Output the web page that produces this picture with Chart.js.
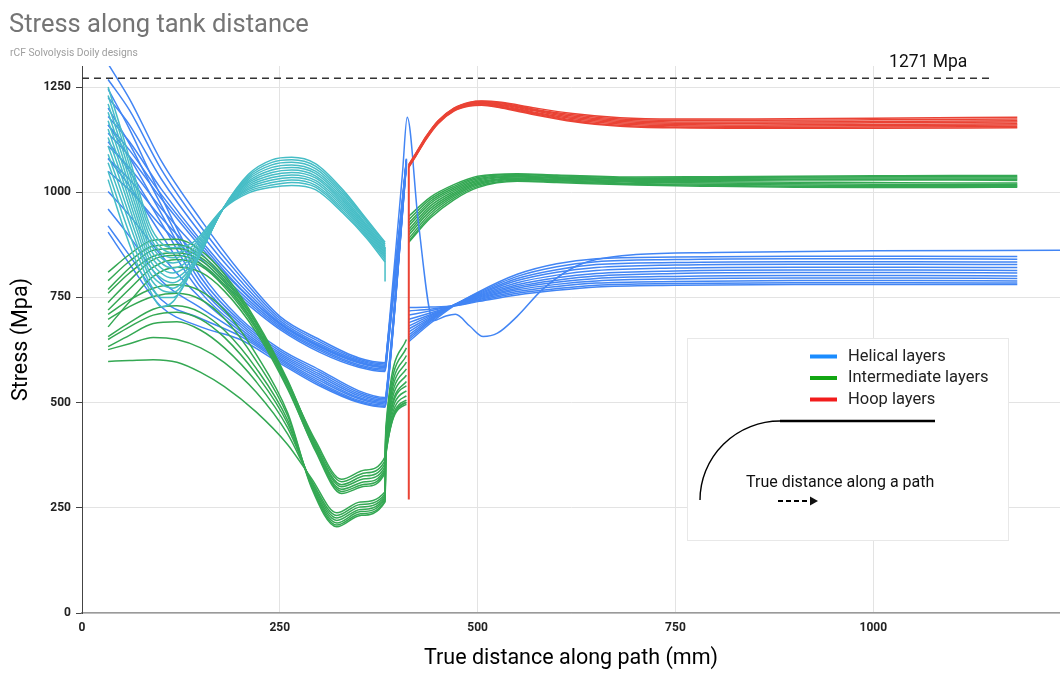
<!DOCTYPE html>
<html>
<head>
<meta charset="UTF-8">
<title>Stress along tank distance</title>
<script src="https://cdn.jsdelivr.net/npm/chart.js@4.4.1/dist/chart.umd.min.js"></script>
<style>
html,body{margin:0;padding:0;background:#fff;}
#wrap{width:1060px;height:673px;}
</style>
</head>
<body>
<div id="wrap"><canvas id="chart" width="1060" height="673"></canvas></div>
<script>
// ===== DATA =====
const xTicks = [0, 250, 500, 750, 1000];
const yTicks = [0, 250, 500, 750, 1000, 1250];
const limitValue = 1271;
const limitX = [0, 1148];

// helical layers, left part (two bundles)
const helX = [33, 60, 100, 150, 200, 250, 300, 350, 383, 386, 410];
const helUpper = [
  [1305, 1222, 1075, 935, 810, 705, 650, 606, 595, 640, 1078],
  [1268, 1195, 1055, 918, 800, 700, 645, 603, 592, 637, 1076],
  [1225, 1160, 1032, 902, 790, 695, 640, 600, 589, 634, 1074],
  [1180, 1120, 1008, 886, 780, 690, 636, 597, 586, 631, 1072],
  [1140, 1085, 985, 870, 770, 686, 632, 594, 583, 628, 1070],
  [1110, 1058, 962, 856, 762, 682, 628, 590, 580, 625, 1068],
  [1080, 1030, 940, 842, 755, 678, 624, 587, 577, 622, 1066],
  [1050, 1005, 920, 830, 748, 674, 620, 584, 574, 619, 1064]
];
const helLower = [
  [1245, 1150, 990, 810, 700, 628, 578, 528, 512, 550, 1080],
  [1200, 1115, 970, 798, 694, 623, 573, 524, 509, 547, 1078],
  [1160, 1082, 950, 786, 688, 618, 568, 520, 506, 544, 1076],
  [1120, 1050, 928, 774, 682, 614, 563, 516, 503, 541, 1074],
  [1080, 1015, 900, 762, 676, 610, 558, 512, 500, 538, 1072],
  [1002, 945, 850, 748, 670, 606, 553, 509, 497, 535, 1070],
  [960, 895, 790, 725, 664, 602, 548, 505, 494, 532, 1068],
  [920, 850, 745, 700, 658, 598, 544, 502, 491, 529, 1066],
  [905, 830, 728, 680, 650, 594, 540, 500, 489, 527, 1064]
];
// helical layers, right part
const helRightX = [413, 440, 470, 500, 550, 600, 650, 750, 900, 1050, 1182];
const helRight = [
  [645, 688, 730, 762, 805, 830, 842, 846, 848, 848, 847],
  [650, 692, 731, 760, 800, 823, 835, 840, 842, 842, 841],
  [655, 695, 732, 758, 795, 816, 828, 833, 835, 835, 834],
  [661, 698, 732, 756, 790, 810, 821, 827, 829, 829, 828],
  [668, 700, 732, 754, 785, 803, 814, 820, 822, 822, 821],
  [675, 703, 732, 752, 780, 797, 807, 813, 815, 815, 814],
  [682, 706, 731, 750, 776, 791, 801, 807, 809, 809, 808],
  [690, 709, 731, 748, 772, 786, 795, 800, 802, 802, 801],
  [698, 713, 730, 746, 768, 781, 789, 794, 796, 796, 795],
  [708, 718, 730, 744, 764, 776, 784, 788, 790, 790, 789],
  [718, 722, 730, 742, 760, 771, 779, 783, 785, 785, 784],
  [726, 727, 730, 740, 756, 767, 775, 779, 781, 781, 781]
];
// the one helical line with the spike and the dip
const helSpikeX = [33, 60, 100, 150, 200, 250, 300, 350, 383, 386, 405, 411, 425, 444, 460, 472, 490, 507, 525, 550, 582, 620, 650, 700, 800, 1000, 1236];
const helSpikeY = [1160, 1100, 995, 878, 772, 688, 634, 596, 585, 640, 1045, 1178, 930, 695, 706, 710, 682, 657, 665, 705, 769, 820, 840, 852, 857, 861, 862];

// cyan bundle (helical, first zone)
const cyanX = [33, 50, 67, 85, 100, 115, 140, 178, 210, 240, 265, 295, 330, 360, 383];
const cyanLines = [
  [1250, 1145, 1035, 925, 880, 868, 880, 960, 998, 1012, 1016, 1006, 950, 890, 834],
  [1230, 1128, 1020, 912, 868, 856, 872, 960, 1002, 1017, 1023, 1012, 955, 894, 840],
  [1210, 1110, 1004, 898, 856, 844, 864, 960, 1006, 1023, 1029, 1017, 960, 898, 845],
  [1190, 1092, 988, 884, 844, 832, 856, 960, 1010, 1029, 1035, 1023, 965, 902, 849],
  [1170, 1074, 972, 870, 832, 820, 848, 960, 1014, 1035, 1041, 1028, 970, 906, 853],
  [1150, 1056, 956, 856, 820, 808, 840, 960, 1018, 1041, 1047, 1034, 975, 910, 857],
  [1130, 1038, 940, 842, 808, 796, 832, 960, 1022, 1047, 1053, 1039, 980, 914, 861],
  [1110, 1020, 924, 828, 796, 785, 826, 960, 1026, 1053, 1059, 1045, 985, 918, 865],
  [1090, 1000, 906, 812, 782, 772, 822, 960, 1030, 1059, 1065, 1050, 990, 922, 869],
  [1070, 980, 888, 800, 768, 762, 820, 960, 1034, 1065, 1071, 1056, 995, 927, 873],
  [1050, 955, 866, 786, 750, 750, 818, 960, 1038, 1071, 1077, 1062, 1000, 931, 877],
  [1030, 930, 842, 770, 728, 740, 820, 960, 1042, 1077, 1083, 1068, 1005, 935, 881]
];
const cyanDropX = [383, 383];
const cyanDropY = [870, 788];

// intermediate layers: high-bump bundle, low-bump bundle, right part
const interUpX = [33, 60, 90, 120, 150, 180, 220, 260, 295, 328, 358, 383, 384, 410];
const interUp = [
  [738, 790, 840, 850, 830, 780, 680, 545, 410, 318, 340, 371, 440, 650],
  [769, 820, 862, 866, 845, 792, 688, 550, 405, 312, 333, 362, 432, 630],
  [810, 852, 886, 888, 862, 805, 695, 553, 400, 305, 326, 355, 425, 612],
  [760, 808, 848, 856, 838, 786, 682, 542, 396, 300, 319, 348, 420, 596],
  [790, 836, 872, 876, 852, 798, 690, 546, 392, 294, 312, 342, 415, 580],
  [680, 740, 800, 822, 810, 765, 668, 532, 388, 289, 306, 337, 410, 565],
  [720, 770, 822, 840, 825, 775, 675, 536, 385, 284, 301, 333, 405, 550]
];
const interLoX = [33, 60, 90, 120, 150, 180, 220, 260, 290, 322, 352, 383, 384, 410];
const interLo = [
  [598, 600, 602, 596, 572, 538, 478, 400, 320, 238, 264, 288, 400, 540],
  [626, 640, 655, 650, 630, 595, 525, 425, 315, 232, 258, 283, 395, 528],
  [633, 660, 688, 692, 672, 630, 550, 440, 312, 226, 252, 278, 390, 516],
  [650, 680, 708, 715, 698, 655, 568, 450, 308, 220, 246, 274, 386, 506],
  [657, 690, 722, 730, 714, 672, 582, 458, 305, 214, 241, 270, 382, 500],
  [698, 728, 752, 760, 745, 700, 600, 468, 302, 209, 236, 266, 378, 496],
  [710, 744, 772, 780, 765, 720, 615, 475, 298, 205, 232, 264, 375, 502]
];
const interRightX = [413, 440, 470, 500, 550, 600, 700, 800, 900, 1000, 1100, 1182];
const interRight = [
  [943, 988, 1018, 1038, 1044, 1041, 1036, 1037, 1038, 1039, 1040, 1040],
  [935, 983, 1014, 1035, 1042, 1039, 1034, 1035, 1036, 1037, 1037, 1037],
  [927, 978, 1010, 1032, 1040, 1037, 1032, 1033, 1034, 1034, 1034, 1034],
  [920, 973, 1006, 1029, 1038, 1035, 1030, 1031, 1031, 1031, 1031, 1031],
  [912, 967, 1002, 1026, 1036, 1033, 1028, 1028, 1029, 1029, 1029, 1028],
  [905, 961, 998, 1023, 1034, 1031, 1026, 1025, 1024, 1023, 1022, 1022],
  [898, 955, 994, 1020, 1032, 1029, 1024, 1022, 1020, 1019, 1018, 1019],
  [890, 949, 990, 1017, 1030, 1027, 1021, 1019, 1017, 1016, 1016, 1016],
  [884, 943, 986, 1014, 1028, 1025, 1019, 1016, 1014, 1013, 1013, 1014],
  [881, 938, 982, 1011, 1026, 1023, 1017, 1014, 1012, 1011, 1011, 1012]
];

// hoop layers
const hoopVertX = [413, 413];
const hoopVertY = [270, 1062];
const hoopX = [413, 422, 435, 450, 470, 490, 505, 530, 570, 620, 680, 750, 850, 1000, 1182];
const hoop = [
  [1066, 1093, 1133, 1170, 1200, 1214, 1217, 1214, 1201, 1187, 1177, 1174, 1174, 1176, 1178],
  [1065, 1092, 1132, 1169, 1199, 1213, 1216, 1212, 1198, 1184, 1174, 1171, 1171, 1172, 1174],
  [1064, 1091, 1131, 1168, 1198, 1212, 1214, 1210, 1196, 1181, 1171, 1167, 1167, 1168, 1170],
  [1063, 1090, 1130, 1167, 1197, 1211, 1213, 1208, 1194, 1178, 1168, 1164, 1164, 1165, 1167],
  [1062, 1089, 1129, 1166, 1196, 1209, 1211, 1206, 1191, 1175, 1165, 1161, 1160, 1161, 1163],
  [1061, 1088, 1128, 1165, 1195, 1208, 1210, 1204, 1189, 1172, 1162, 1158, 1157, 1158, 1160],
  [1060, 1087, 1127, 1164, 1194, 1206, 1208, 1202, 1187, 1170, 1159, 1155, 1154, 1155, 1156],
  [1059, 1086, 1126, 1163, 1193, 1205, 1207, 1200, 1185, 1168, 1157, 1153, 1152, 1152, 1153]
];

const legendNames = ['Helical layers', 'Intermediate layers', 'Hoop layers'];
const legendColors = ['#1a8cff', '#12a612', '#f21c1c'];

// ===== CHART =====
const BLUE = '#4285f4', GREEN = '#34a853', RED = '#ea4335', CYAN = '#46bdc6';
const FONT = 'Roboto';

function pts(xs, ys){ return xs.map((x,i)=>({x:x, y:ys[i]})); }

const datasets = [];
function addLine(xs, ys, color, extra){
    datasets.push(Object.assign({
        data: pts(xs, ys), borderColor: color, borderWidth: 1.5,
        pointRadius: 0, fill: false, cubicInterpolationMode: 'monotone'
    }, extra || {}));
}
// first dataset is drawn on top
hoop.forEach(r=>addLine(hoopX, r, RED));
addLine(hoopVertX, hoopVertY, RED, {borderWidth: 2});
addLine(limitX, [limitValue, limitValue], '#333', {borderDash:[7,5], borderWidth:1.5, cubicInterpolationMode:'default', tension:0});
cyanLines.forEach(r=>addLine(cyanX, r, CYAN));
addLine(cyanDropX, cyanDropY, CYAN);
helRight.forEach(r=>addLine(helRightX, r, BLUE));
addLine(helSpikeX, helSpikeY, BLUE);
interRight.forEach(r=>addLine(interRightX, r, GREEN));
interUp.forEach(r=>addLine(interUpX, r, GREEN));
interLo.forEach(r=>addLine(interLoX, r, GREEN));
helUpper.forEach(r=>addLine(helX, r, BLUE));
helLower.forEach(r=>addLine(helX, r, BLUE));

const decor = {
    id: 'decor',
    afterDraw(chart){
        const ctx = chart.ctx;
        const sx = chart.scales.x, sy = chart.scales.y;
        ctx.save();
        // title + subtitle
        ctx.textBaseline = 'alphabetic';
        ctx.textAlign = 'left';
        ctx.fillStyle = '#757575';
        ctx.font = '25.5px ' + FONT;
        ctx.fillText('Stress along tank distance', 9, 32);
        ctx.fillStyle = '#9e9e9e';
        ctx.font = '10.3px ' + FONT;
        ctx.fillText('rCF Solvolysis Doily designs', 10, 56);

        // limit label
        ctx.fillStyle = '#111';
        ctx.font = '17.5px ' + FONT;
        ctx.textBaseline = 'middle';
        ctx.fillText(limitValue + ' Mpa', sx.getPixelForValue(1020), sy.getPixelForValue(limitValue) - 16);

        // legend box
        const bx = 687.5, by = 338.5, bw = 321, bh = 202;
        ctx.fillStyle = '#fff';
        ctx.fillRect(bx, by, bw, bh);
        ctx.strokeStyle = '#e8e8e8';
        ctx.lineWidth = 1;
        ctx.strokeRect(bx, by, bw, bh);

        ctx.font = '16.5px ' + FONT;
        ctx.textBaseline = 'middle';
        legendNames.forEach((name, i)=>{
            const yy = 356.5 + i * 21.5;
            ctx.strokeStyle = legendColors[i];
            ctx.lineWidth = 4;
            ctx.beginPath(); ctx.moveTo(810, yy); ctx.lineTo(837, yy); ctx.stroke();
            ctx.fillStyle = '#222';
            ctx.fillText(name, 848, yy);
        });

        // inset: path sketch
        ctx.strokeStyle = '#000';
        ctx.lineWidth = 1.4;
        ctx.beginPath();
        ctx.ellipse(780, 500, 80, 79, 0, Math.PI, 1.5 * Math.PI);
        ctx.stroke();
        ctx.lineWidth = 2.5;
        ctx.beginPath(); ctx.moveTo(780, 421); ctx.lineTo(935, 421); ctx.stroke();

        ctx.fillStyle = '#111';
        ctx.font = '16px ' + FONT;
        ctx.fillText('True distance along a path', 746, 483);

        ctx.lineWidth = 2;
        ctx.setLineDash([5, 3]);
        ctx.beginPath(); ctx.moveTo(778, 501); ctx.lineTo(810, 501); ctx.stroke();
        ctx.setLineDash([]);
        ctx.fillStyle = '#111';
        ctx.beginPath(); ctx.moveTo(818, 501); ctx.lineTo(810, 496.5); ctx.lineTo(810, 505.5); ctx.closePath(); ctx.fill();
        ctx.restore();
    }
};

new Chart(document.getElementById('chart'), {
    type: 'line',
    data: { datasets: datasets },
    options: {
        responsive: false,
        devicePixelRatio: 1,
        animation: false,
        events: [],
        layout: { padding: { top: 66, left: 0, right: 0, bottom: 0 } },
        plugins: { legend: { display: false }, tooltip: { enabled: false }, title: { display: false } },
        scales: {
            x: {
                type: 'linear', min: 0, max: 1236,
                afterFit: s => { s.height = 60; },
                afterBuildTicks: s => { s.ticks = xTicks.map(v=>({value:v})); },
                grid: { color: '#e3e3e3', drawTicks: false },
                border: { color: '#9a9a9a', width: 1.5 },
                ticks: { padding: 8, color: '#222', font: { family: FONT, size: 12, weight: 'bold' }, callback: v => String(v), maxRotation: 0 },
                title: { display: true, text: 'True distance along path (mm)', color: '#000', font: { family: FONT, size: 21.5 }, padding: { top: 0, bottom: 1 } }
            },
            y: {
                type: 'linear', min: 0, max: 1300,
                afterFit: s => { s.width = 82; },
                afterBuildTicks: s => { s.ticks = yTicks.map(v=>({value:v})); },
                grid: { color: '#e3e3e3', tickLength: 6, tickColor: '#444' },
                border: { color: '#444', width: 1 },
                ticks: { padding: 5, color: '#222', font: { family: FONT, size: 12, weight: 'bold' }, callback: v => String(v) },
                title: { display: true, text: 'Stress (Mpa)', color: '#000', font: { family: FONT, size: 21.5 }, padding: { top: 9, bottom: 0 } }
            }
        }
    },
    plugins: [decor]
});
</script>
</body>
</html>
